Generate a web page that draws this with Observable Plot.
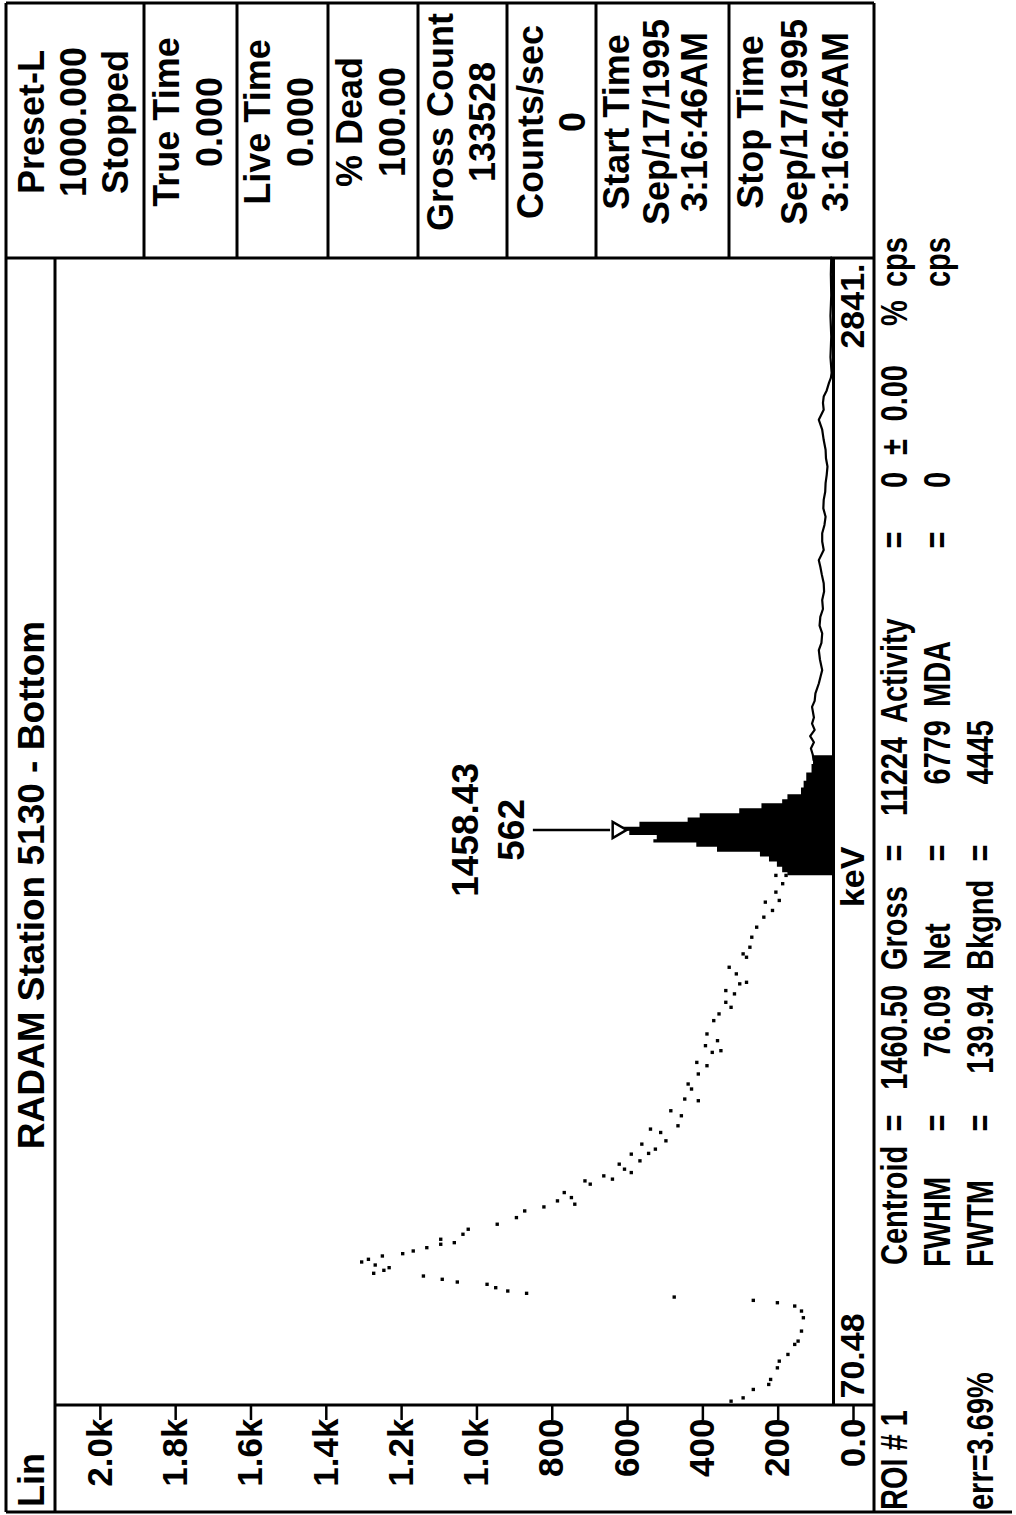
<!DOCTYPE html>
<html>
<head>
<meta charset="utf-8">
<script src="https://cdn.jsdelivr.net/npm/d3@7"></script>
<script src="https://cdn.jsdelivr.net/npm/@observablehq/plot@0.6"></script>
<style>
  html, body { margin: 0; padding: 0; background: #fff; width: 1016px; height: 1515px; overflow: hidden; }
  #stage { position: absolute; left: 0; top: 0; width: 1515px; height: 1016px;
           transform-origin: 0 0; transform: translate(0px, 1515px) rotate(-90deg); background: #fff; }
  #stage svg { display: block; }
</style>
</head>
<body>
<div id="stage"></div>
<script>
// ---------------- data ----------------
const energyDomain = [70.48, 2841];
const countDomain = [0, 2066];
const countTicks = [0, 200, 400, 600, 800, 1000, 1200, 1400, 1600, 1800, 2000];
const countTickLabels = ["0.0", "200", "400", "600", "800", "1.0k", "1.2k", "1.4k", "1.6k", "1.8k", "2.0k"];
const energyEdgeLabels = ["70.48", "keV", "2841."];

// scattered channel dots (keV, counts)
const dotEnergy = [78.5, 86.5, 106.8, 118.9, 131, 159, 175.2, 191.4, 215.6, 223.6, 247.8, 280, 296.2, 308.3, 316.3, 322, 330, 339, 344.6, 352.6, 360.8, 366.3, 372.9, 380.8, 401, 394.6, 387.4, 407.4, 429.2, 421.2, 414.7, 434.8, 441.3, 449.3, 457.5, 461.4, 469.6, 481.7, 493.8, 505.9, 521.9, 538, 547.7, 562.3, 582.4, 570.3, 554.3, 610.6, 602.7, 622.7, 614.8, 651, 638.9, 630.7, 675.2, 659, 699.4, 677, 735.7, 687.3, 727.5, 707.4, 743.7,
  780, 767.9, 808.3, 832.5, 804.2, 844.6, 896.8, 868.8, 888.8, 937.2, 965.5, 921, 949.3, 925.1, 997.7, 1013.9, 1042, 1029.9, 1070.3, 1062.3, 1086.5, 1090.3, 1126.6, 1110.6, 1158.9, 1150.8, 1175, 1199.2, 1223.4, 1247.6, 1283.9, 1263.8, 1288, 1308.1, 1328.4, 1348.5, 1348.5];
const dotCounts = [272, 240, 213, 172, 167, 149, 144, 121, 103, 94, 85, 80, 85, 103, 149, 213, 423, 815, 865, 897, 920, 999, 1039, 1089, 1180, 1194, 1221, 1217, 1198, 1235, 1253, 1144, 1116, 1080, 1043, 1007, 1043, 984, 970, 893, 842, 820, 769, 733, 715, 696, 687, 660, 646, 610, 587, 569, 555, 537, 537, 514, 509, 491, 486, 473, 459, 445, 413,
  432, 404, 395, 377, 359, 386, 363, 359, 336, 340, 336, 322, 308, 299, 318, 304, 286, 272, 286, 263, 249, 231, 277, 258, 240, 231, 222, 217, 204, 185, 181, 162, 144, 153, 135, 153, 126];

// region of interest (filled peak)
const roiEnergy = [1350, 1365, 1376.7, 1390, 1400.9, 1413, 1425.1, 1433.1, 1441.1, 1453.2, 1461.4, 1473.5, 1485.6, 1493.6, 1505.7, 1517.8, 1529.9, 1537.9, 1554.1, 1570, 1586.3, 1610.5, 1626.7, 1640];
const roiCounts = [121, 135, 149, 170, 194, 308, 363, 477, 468, 541, 562, 514, 386, 354, 249, 190, 135, 121, 85, 78, 71, 57, 53, 53];

// high-energy tail (continuous trace)
const tailEnergy = [1626.7, 1640, 1655, 1670, 1685, 1700, 1715, 1730, 1755.5, 1770, 1788, 1812, 1830, 1844.3, 1870, 1892.7, 1910, 1933, 1952, 1973, 1992, 2013.6, 2034, 2054, 2075, 2094, 2110, 2134.6, 2155, 2175, 2195, 2215, 2235, 2255.6, 2275, 2296, 2316, 2336, 2356, 2376.5, 2400, 2425, 2449, 2473, 2490, 2505, 2520, 2538, 2550, 2562, 2600, 2650, 2700, 2750, 2800, 2841];
const tailCounts = [53, 55, 60, 52, 62, 50, 57, 52, 57, 50, 48, 39, 34, 30, 36, 39, 32, 30, 37, 35, 28, 30, 25, 26, 31, 35, 39, 26, 30, 30, 24, 21, 27, 26, 22, 21, 18, 16, 20, 21, 26, 30, 39, 26, 28, 26, 18, 12, 7, 5, 8, 6, 8, 6, 7, 6];

const peakEnergy = 1458.43;
const peakCounts = 562;

const titleText = "RADAM Station 5130 - Bottom";
const scaleText = "Lin";
const panelCells = [
  ["Preset-L", "1000.000", "Stopped"],
  ["True Time", "0.000"],
  ["Live Time", "0.000"],
  ["% Dead", "100.00"],
  ["Gross Count", "133528"],
  ["Counts/sec", "0"],
  ["Start Time", "Sep/17/1995", "3:16:46AM"],
  ["Stop Time", "Sep/17/1995", "3:16:46AM"]
];
const roiRows = [
  ["ROI # 1", "Centroid", "=", "1460.50", "Gross", "=", "11224", "Activity", "=", "0", "±", "0.00", "%", "cps"],
  ["FWHM", "=", "76.09", "Net", "=", "6779", "MDA", "=", "0", "cps"],
  ["err=3.69%", "FWTM", "=", "139.94", "Bkgnd", "=", "4445"]
];

// ---------------- layout (pixels in the unrotated frame) ----------------
const W = 1515, H = 1016;
const X0 = 110, X1 = 1257, YT = 55, YB = 833, YS = 874;
const FONT = "'Liberation Sans', Arial, Helvetica, sans-serif";
const cellEdges = [6, 144, 237, 328, 418, 507, 596, 729, YS];
const cellLineY = [[31, 73, 115], [166, 209], [257, 300], [349, 392], [440, 482], [530, 572], [616, 656, 694], [750, 794, 835]];
const roiRowY = [894, 937, 980];
const roiPos = [
  [[5, "start"], [250, "start"], [392, "middle"], [530, "end"], [545, "start"], [662, "middle"], [778, "end"], [792, "start"], [975, "middle"], [1035, "middle"], [1068, "middle"], [1150, "end"], [1202, "middle"], [1228, "start"]],
  [[248, "start"], [392, "middle"], [530, "end"], [545, "start"], [662, "middle"], [795, "end"], [808, "start"], [975, "middle"], [1035, "middle"], [1228, "start"]],
  [[5, "start"], [248, "start"], [392, "middle"], [530, "end"], [545, "start"], [662, "middle"], [795, "end"]]
];

const dots = dotEnergy.map((e, i) => ({e, c: dotCounts[i]}));
const roi = roiEnergy.map((e, i) => ({e, c: roiCounts[i]}));
const tail = tailEnergy.map((e, i) => ({e, c: tailCounts[i]}));

const svg = Plot.plot({
  width: W, height: H,
  marginLeft: X0, marginRight: W - X1, marginTop: YT, marginBottom: H - YB,
  x: {domain: energyDomain, axis: null},
  y: {domain: countDomain, axis: null},
  style: {fontFamily: FONT, fontWeight: "bold", background: "#fff", color: "#000", overflow: "visible"},
  marks: [
    Plot.areaY(roi, {x: "e", y: "c", curve: "step", fill: "#000"}),
    Plot.dot(dots, {x: "e", y: "c", r: 1.9, symbol: "square", fill: "#000", stroke: "none"}),
    Plot.line(tail, {x: "e", y: "c", stroke: "#000", strokeWidth: 2.2}),
    Plot.ruleY([0], {stroke: "#000", strokeWidth: 3}),
    Plot.ruleX([peakEnergy], {x: d => d, y1: 592, y2: 797, stroke: "#000", strokeWidth: 2.5}),
    Plot.dot([peakEnergy], {x: d => d, y: peakCounts + 12, symbol: "triangle", rotate: 180, r: 6, fill: "#fff", stroke: "#000", strokeWidth: 2.5}),
    Plot.text([peakEnergy.toFixed(2)], {x: peakEnergy, y: 975, text: d => d, fontSize: 37, fontWeight: "bold"}),
    Plot.text([String(peakCounts)], {x: peakEnergy, y: 854, text: d => d, fontSize: 37, fontWeight: "bold"}),
    Plot.axisY({ticks: countTicks, tickFormat: (d) => countTickLabels[countTicks.indexOf(d)], tickSize: 15, tickPadding: -1, dy: 20,
                fontSize: 35, fontWeight: "bold", strokeWidth: 2.5, anchor: "left", label: null}),
    Plot.text([energyEdgeLabels[0]], {x: energyDomain[0], frameAnchor: "bottom", lineAnchor: "middle", text: d => d, dy: 20, dx: 6, textAnchor: "start", fontSize: 34, fontWeight: "bold"}),
    Plot.text([energyEdgeLabels[1]], {x: 1345, frameAnchor: "bottom", lineAnchor: "middle", text: d => d, dy: 20, textAnchor: "middle", fontSize: 34, fontWeight: "bold"}),
    Plot.text([energyEdgeLabels[2]], {x: energyDomain[1], frameAnchor: "bottom", lineAnchor: "middle", text: d => d, dy: 20, dx: -6, textAnchor: "end", fontSize: 34, fontWeight: "bold"})
  ]
});

document.getElementById("stage").appendChild(svg);

const s = d3.select(svg);
const g = s.append("g").attr("stroke", "#000").attr("stroke-width", 3).attr("fill", "none");
const seg = (x1, y1, x2, y2, w) => g.append("line").attr("x1", x1).attr("y1", y1).attr("x2", x2).attr("y2", y2).attr("stroke-width", w || 3);
seg(3, 6, 1512, 6);
seg(3, 6, 3, 1012);
seg(1512, 6, 1512, YS);
seg(3, YT, X1, YT);
seg(X0, YT, X0, YS);
seg(X1, 6, X1, YS);
seg(3, YS, 1512, YS);
cellEdges.slice(1, -1).forEach(y => seg(X1, y, 1512, y));

const t = s.append("g").attr("fill", "#000").attr("font-family", FONT).attr("font-weight", "bold");
const txt = (str, x, y, size, anchor, sy) => t.append("text")
  .attr("transform", `translate(${x},${y}) scale(1,${sy || 1})`)
  .attr("dy", "0.36em").attr("font-size", size).attr("text-anchor", anchor || "middle").text(str);

txt(scaleText, 8, 31, 36, "start");
txt(titleText, 630, 31, 37, "middle");
panelCells.forEach((cell, i) => cell.forEach((line, j) => txt(line, 1393, cellLineY[i][j], 36, "middle")));
roiRows.forEach((row, r) => row.forEach((str, k) => txt(str, roiPos[r][k][0], roiRowY[r], 29, roiPos[r][k][1], 1.25)));
</script>
</body>
</html>
